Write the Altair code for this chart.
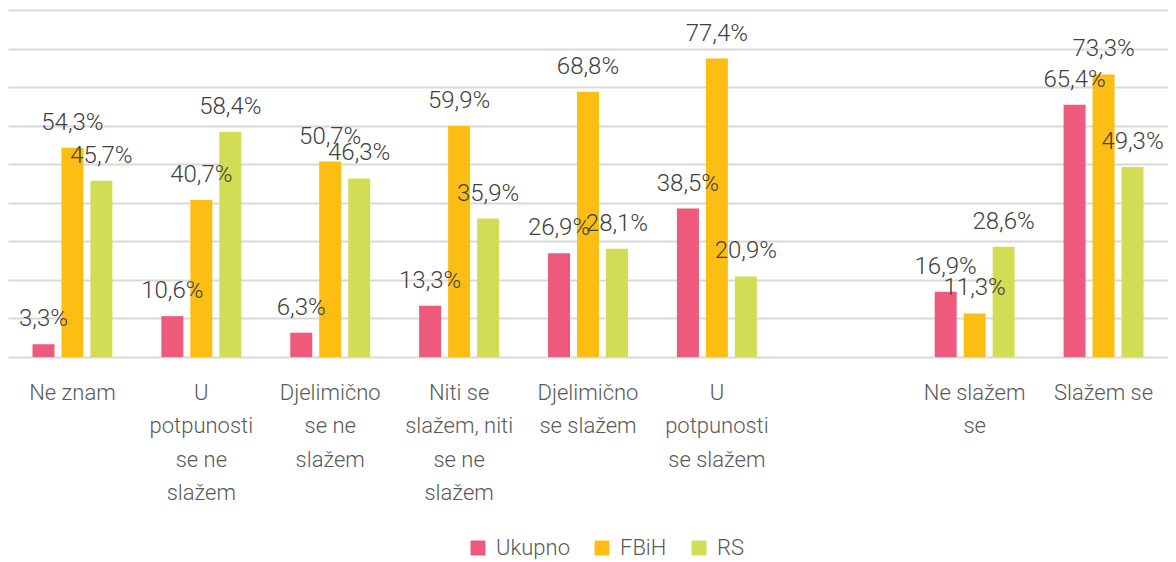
import altair as alt
import pandas as pd

categories = [
    "Ne znam",
    "U|potpunosti|se ne|slažem",
    "Djelimično|se ne|slažem",
    "Niti se|slažem, niti|se ne|slažem",
    "Djelimično|se slažem",
    "U|potpunosti|se slažem",
    " ",
    "Ne slažem|se",
    "Slažem se",
]
data_categories = [c for c in categories if c != " "]
series = ["Ukupno", "FBiH", "RS"]
ukupno = [3.3, 10.6, 6.3, 13.3, 26.9, 38.5, 16.9, 65.4]
fbih = [54.3, 40.7, 50.7, 59.9, 68.8, 77.4, 11.3, 73.3]
rs = [45.7, 58.4, 46.3, 35.9, 28.1, 20.9, 28.6, 49.3]
grid_values = [0, 10, 20, 30, 40, 50, 60, 70, 80, 90]
colors = ["#EE5A7C", "#FDBE13", "#D1DE55"]

rows = []
for s, vals in zip(series, [ukupno, fbih, rs]):
    for c, v in zip(data_categories, vals):
        rows.append({"cat": c, "series": s, "value": v,
                     "label": f"{v:.1f}%".replace(".", ",")})
df = pd.DataFrame(rows)

FONT = "Roboto"

x = alt.X("cat:N", sort=categories,
          scale=alt.Scale(domain=categories, paddingInner=0, paddingOuter=0),
          axis=alt.Axis(title=None, labelAngle=0, ticks=False, domain=False,
                        labelExpr="split(datum.label, '|')",
                        labelFont=FONT, labelFontSize=22, labelFontWeight=300,
                        labelColor="#595959", labelLineHeight=33.5,
                        labelPadding=25, labelBaseline="top"))
xo = alt.XOffset("series:N", sort=series,
                 scale=alt.Scale(domain=series, paddingInner=0.241, paddingOuter=0.845))
y = alt.Y("value:Q", scale=alt.Scale(domain=[0, 90], nice=False),
          axis=alt.Axis(title=None, labels=False, ticks=False, domain=False,
                        values=grid_values, tickCount=10,
                        grid=True, gridColor="#D9D9D9", gridWidth=2))
color = alt.Color("series:N", sort=series,
                  scale=alt.Scale(domain=series, range=colors),
                  legend=alt.Legend(title=None, orient="none", direction="horizontal",
                                    legendX=459, legendY=527,
                                    symbolType="square", symbolSize=225,
                                    symbolStrokeWidth=0, symbolOpacity=1,
                                    labelFont=FONT, labelFontSize=22, labelFontWeight=300,
                                    labelColor="#595959", labelOffset=7,
                                    columnPadding=21))

base = alt.Chart(df)
bars = base.mark_bar(opacity=1).encode(x=x, xOffset=xo, y=y, color=color)
texts = base.mark_text(font=FONT, fontSize=24, fontWeight=300, color="#404040",
                       baseline="alphabetic", dy=-18).encode(
    x=x, xOffset=xo, y=y, text="label:N")

chart = alt.layer(bars, texts).properties(
    width=1160, height=347,
    padding={"left": 0, "right": 0, "top": 2, "bottom": 0},
).configure_view(stroke=None).configure_axis(gridCap="butt")

chart.save("out.html", embed_options={"renderer": "svg", "actions": False})
